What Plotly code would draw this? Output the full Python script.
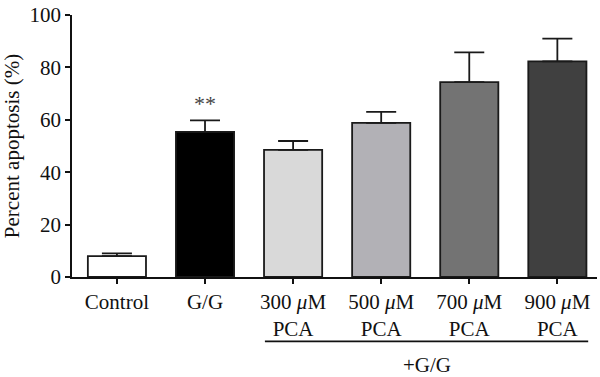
import plotly.graph_objects as go

categories = ["Control", "G/G", "300 <i>μ</i>M<br>PCA", "500 <i>μ</i>M<br>PCA",
              "700 <i>μ</i>M<br>PCA", "900 <i>μ</i>M<br>PCA"]
values = [8.0, 55.4, 48.5, 58.8, 74.4, 82.3]
errors = [1.0, 4.4, 3.4, 4.2, 11.3, 8.7]
colors = ["#ffffff", "#000000", "#d9d9d9", "#b2b1b6", "#737373", "#404040"]
y_ticks = [0, 20, 40, 60, 80, 100]

FONT = "Liberation Serif"
FS = 21
xs = list(range(len(categories)))

fig = go.Figure()
fig.add_trace(go.Bar(
    x=xs, y=values, width=0.66,
    marker=dict(color=colors, line=dict(color="#1a1a1a", width=1.8)),
    error_y=dict(type="data", symmetric=False, array=errors,
                 arrayminus=[0] * len(values),
                 color="#1a1a1a", thickness=1.8, width=15),
    showlegend=False,
))

fig.add_annotation(x=1, y=values[1] + errors[1] + 1.0, text="**", showarrow=False,
                   yanchor="bottom", font=dict(family=FONT, size=22, color="#444"))

fig.add_shape(type="line", xref="x", yref="paper", x0=1.68, x1=5.35,
              y0=-0.246, y1=-0.246, line=dict(color="#111", width=1.8))
fig.add_annotation(x=3.52, xref="x", yref="paper", y=-0.335, text="+G/G",
                   showarrow=False, yanchor="middle",
                   font=dict(family=FONT, size=FS, color="#111"))

fig.update_layout(
    width=600, height=377,
    margin=dict(l=72, r=3, t=13, b=100),
    plot_bgcolor="white", paper_bgcolor="white",
    font=dict(family=FONT, size=FS, color="#111"),
)
fig.update_xaxes(
    range=[-0.51, 5.45], tickmode="array", tickvals=xs, ticktext=categories,
    showline=True, linecolor="#111", linewidth=1.8, ticks="outside",
    ticklen=5, tickwidth=1.5, tickcolor="#111", showgrid=False, zeroline=False,
    tickfont=dict(family=FONT, size=FS, color="#111"),
)
fig.update_yaxes(
    range=[0, 100], tickvals=y_ticks, showline=True, linecolor="#111",
    linewidth=1.8, ticks="outside", ticklen=5, tickwidth=1.5, tickcolor="#111",
    showgrid=False, zeroline=False,
    title=dict(text="Percent apoptosis (%)", standoff=4,
               font=dict(family=FONT, size=FS, color="#111")),
    tickfont=dict(family=FONT, size=FS, color="#111"),
)

fig.write_html("out.html", config={"displayModeBar": False},
               post_script="document.body.style.margin='0';")
